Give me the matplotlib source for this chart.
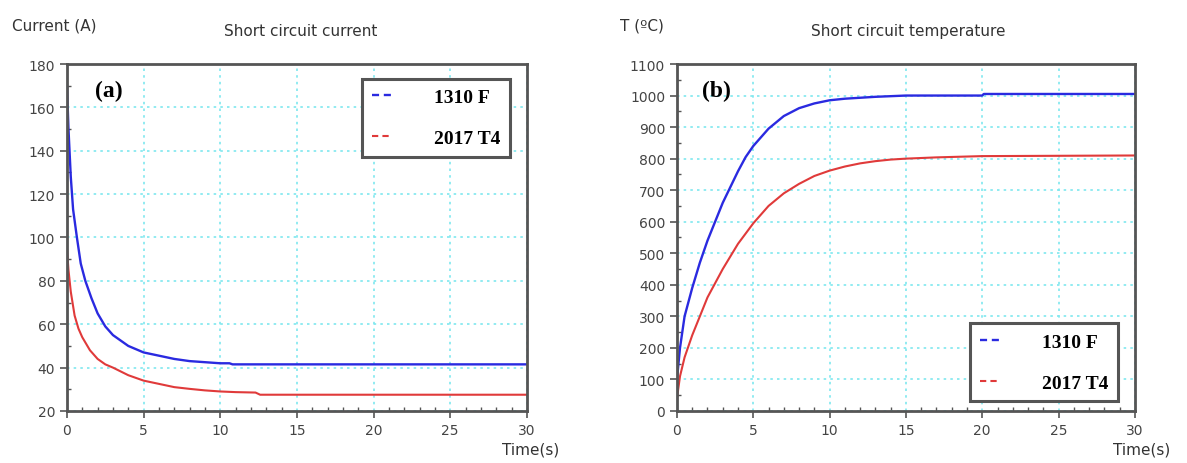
import matplotlib
matplotlib.use("Agg")
import matplotlib.pyplot as plt
from matplotlib.ticker import MultipleLocator

# Short circuit current (A)
t_cur_1310 = [0, 0.1, 0.25, 0.4, 0.65, 0.9, 1.2, 1.6, 2, 2.5, 3, 4, 5, 6, 7, 8, 9, 10, 10.6, 10.8, 30]
i_1310 = [170, 150, 128, 113, 100, 88, 80, 72, 65, 59, 55, 50, 47, 45.5, 44, 43, 42.5, 42, 42, 41.5, 41.5]
t_cur_2017 = [0, 0.1, 0.25, 0.5, 0.75, 1, 1.5, 2, 2.5, 3, 4, 5, 6, 7, 8, 9, 10, 11, 12.3, 12.6, 30]
i_2017 = [95, 85, 75, 64, 58, 54, 48, 44, 41.5, 40, 36.5, 34, 32.5, 31, 30.2, 29.5, 29, 28.7, 28.5, 27.5, 27.5]

# Short circuit temperature (degC)
t_tmp_1310 = [0, 0.2, 0.5, 1, 1.5, 2, 2.5, 3, 3.5, 4, 4.5, 5, 6, 7, 8, 9, 10, 11, 12, 13, 14, 15, 20, 20.1, 30]
T_1310 = [100, 200, 300, 390, 470, 540, 600, 660, 710, 760, 805, 840, 895, 935, 960, 975, 985, 990, 993, 996, 998, 1000, 1000, 1005, 1005]
t_tmp_2017 = [0, 0.2, 0.5, 1, 1.5, 2, 3, 4, 5, 6, 7, 8, 9, 10, 11, 12, 13, 14, 15, 17, 20, 30]
T_2017 = [40, 110, 170, 240, 300, 360, 450, 530, 595, 650, 690, 720, 745, 762, 775, 785, 792, 797, 800, 804, 808, 810]

labels = ["1310 F", "2017 T4"]
blue = "#2a2ae0"
red = "#e03a3a"

fig = plt.figure(figsize=(11.87, 4.64), dpi=100)
ax1 = fig.add_axes([0.0564, 0.1121, 0.3875, 0.7478])
ax2 = fig.add_axes([0.5703, 0.1121, 0.3858, 0.7478])


def style_axes(ax, ymin, ymax, ymajor, yminor):
    ax.set_xlim(0, 30)
    ax.set_ylim(ymin, ymax)
    ax.xaxis.set_major_locator(MultipleLocator(5))
    ax.xaxis.set_minor_locator(MultipleLocator(1))
    ax.yaxis.set_major_locator(MultipleLocator(ymajor))
    ax.yaxis.set_minor_locator(MultipleLocator(yminor))
    ax.grid(True, which="major", color="#7fe8ef", linestyle=(0, (1.5, 2.5)), linewidth=1.2)
    ax.tick_params(which="major", direction="out", length=5, width=1.2, colors="#555555",
                   labelsize=10, labelcolor="#444444")
    ax.tick_params(which="minor", direction="in", length=3, width=1, colors="#555555")
    for s in ax.spines.values():
        s.set_color("#555555")
        s.set_linewidth(2)


def style_legend(leg):
    leg.get_frame().set_linewidth(2.2)
    for h in leg.get_lines():
        h.set_linestyle((0, (3, 2)))


legend_font = {"family": "Liberation Serif", "weight": "bold", "size": 14}

# (a) current
ax1.plot(t_cur_1310, i_1310, color=blue, lw=1.7, label=labels[0])
ax1.plot(t_cur_2017, i_2017, color=red, lw=1.5, label=labels[1])
style_axes(ax1, 20, 180, 20, 10)
ax1.text(0.06, 0.955, "(a)", transform=ax1.transAxes, fontsize=17, fontweight="bold",
         family="Liberation Serif", va="top")
leg1 = ax1.legend(loc="upper right", prop=legend_font,
                  handlelength=1.0, handletextpad=2.2, labelspacing=1.2, borderpad=0.5,
                  fancybox=False, framealpha=1, edgecolor="#555555", bbox_to_anchor=(0.985, 0.985))
style_legend(leg1)
fig.text(0.010, 0.935, "Current (A)", fontsize=11, color="#333333")
fig.text(0.253, 0.922, "Short circuit current", fontsize=11, color="#333333", ha="center")
fig.text(0.447, 0.02, "Time(s)", fontsize=11, color="#333333", ha="center")

# (b) temperature
ax2.plot(t_tmp_1310, T_1310, color=blue, lw=1.7, label=labels[0])
ax2.plot(t_tmp_2017, T_2017, color=red, lw=1.5, label=labels[1])
style_axes(ax2, 0, 1100, 100, 50)
ax2.text(0.055, 0.955, "(b)", transform=ax2.transAxes, fontsize=17, fontweight="bold",
         family="Liberation Serif", va="top")
leg2 = ax2.legend(loc="lower right", prop=legend_font,
                  handlelength=1.0, handletextpad=2.2, labelspacing=1.2, borderpad=0.5,
                  fancybox=False, framealpha=1, edgecolor="#555555", bbox_to_anchor=(0.985, 0.0))
style_legend(leg2)
fig.text(0.522, 0.935, "T (\u00baC)", fontsize=11, color="#333333")
fig.text(0.765, 0.922, "Short circuit temperature", fontsize=11, color="#333333", ha="center")
fig.text(0.962, 0.02, "Time(s)", fontsize=11, color="#333333", ha="center")

fig.savefig("out.png", dpi=100)
